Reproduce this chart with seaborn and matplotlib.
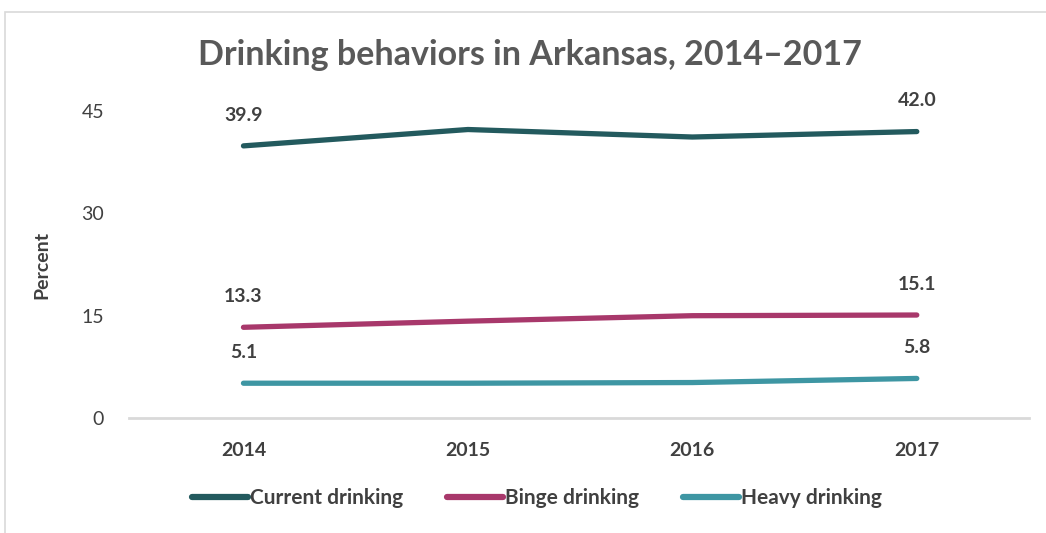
import matplotlib
matplotlib.use("Agg")
import matplotlib.pyplot as plt
import matplotlib.patches as mpatches
import seaborn as sns
import pandas as pd

years = [2014, 2015, 2016, 2017]
current = [39.9, 42.3, 41.2, 42.0]
binge = [13.3, 14.2, 15.0, 15.1]
heavy = [5.1, 5.1, 5.2, 5.8]
series_names = ["Current drinking", "Binge drinking", "Heavy drinking"]
colors = ["#235A5E", "#A8386B", "#3E96A3"]
yticks = [0, 15, 30, 45]

df = pd.DataFrame({
    "Year": years * 3,
    "Percent": current + binge + heavy,
    "Series": sum([[n] * len(years) for n in series_names], []),
})

sns.set_theme(style="white")
plt.rcParams["font.family"] = ["Lato", "DejaVu Sans"]
TXT = "#404040"

fig = plt.figure(figsize=(10.46, 5.33), dpi=100)
W, H = 1046, 533
AX_L, AX_R, AX_B, AX_T = 129, 1029, 418, 77
ax = fig.add_axes([AX_L / W, 1 - AX_B / H, (AX_R - AX_L) / W, (AX_B - AX_T) / H])

sns.lineplot(data=df, x="Year", y="Percent", hue="Series", palette=colors,
             hue_order=series_names, ax=ax, linewidth=3.8, legend=True,
             solid_capstyle="round")

ax.set_xlim(years[0] - 0.51, years[-1] + 0.5)
ax.set_ylim(0, 50)
ax.set_yticks(yticks)
ax.set_yticklabels([str(t) for t in yticks], color=TXT, fontsize=14)
ax.set_xticks(years)
ax.set_xticklabels([str(y) for y in years], color=TXT, fontsize=14, fontweight="bold")
ax.tick_params(axis="y", length=0, pad=18)
ax.tick_params(axis="x", length=0, pad=17)
for s in ["top", "right", "left"]:
    ax.spines[s].set_visible(False)
ax.spines["bottom"].set_color("#D9D9D9")
ax.spines["bottom"].set_linewidth(2.0)
ax.set_xlabel("")
ax.set_ylabel("Percent", color=TXT, fontsize=14, fontweight="bold")
ax.yaxis.set_label_coords((42 - AX_L) / (AX_R - AX_L), (AX_B - 265) / (AX_B - AX_T))
ax.yaxis.label.set_verticalalignment("center")

for vals in [current, binge, heavy]:
    for i in [0, len(years) - 1]:
        ax.annotate(f"{vals[i]:.1f}", (years[i], vals[i]), xytext=(0, 16),
                    textcoords="offset points", ha="center", va="bottom",
                    fontsize=14, fontweight="bold", color=TXT)

h, l = ax.get_legend_handles_labels()
ax.get_legend().remove()
leg = fig.legend(h, l, loc="center", bbox_to_anchor=(537 / W, 1 - 498 / H), ncol=3,
                 frameon=False, fontsize=15, handlelength=2.7, handletextpad=0.1,
                 columnspacing=2.1)
for t in leg.get_texts():
    t.set_color(TXT)
    t.set_fontweight("bold")
for lh in leg.get_lines():
    lh.set_linewidth(4.5)
    lh.set_solid_capstyle("round")

fig.suptitle("Drinking behaviors in Arkansas, 2014\u20132017", x=530 / W, y=1 - 55 / H,
             va="center", fontsize=24.5, fontweight="bold", color="#595959")

fig.patches.append(mpatches.Rectangle((5 / W, -0.1), 1.2, 1 - 12 / H + 0.1,
                                      transform=fig.transFigure, fill=False,
                                      edgecolor="#D9D9D9", linewidth=1.2))

fig.savefig("out.png", dpi=100, facecolor="white")
